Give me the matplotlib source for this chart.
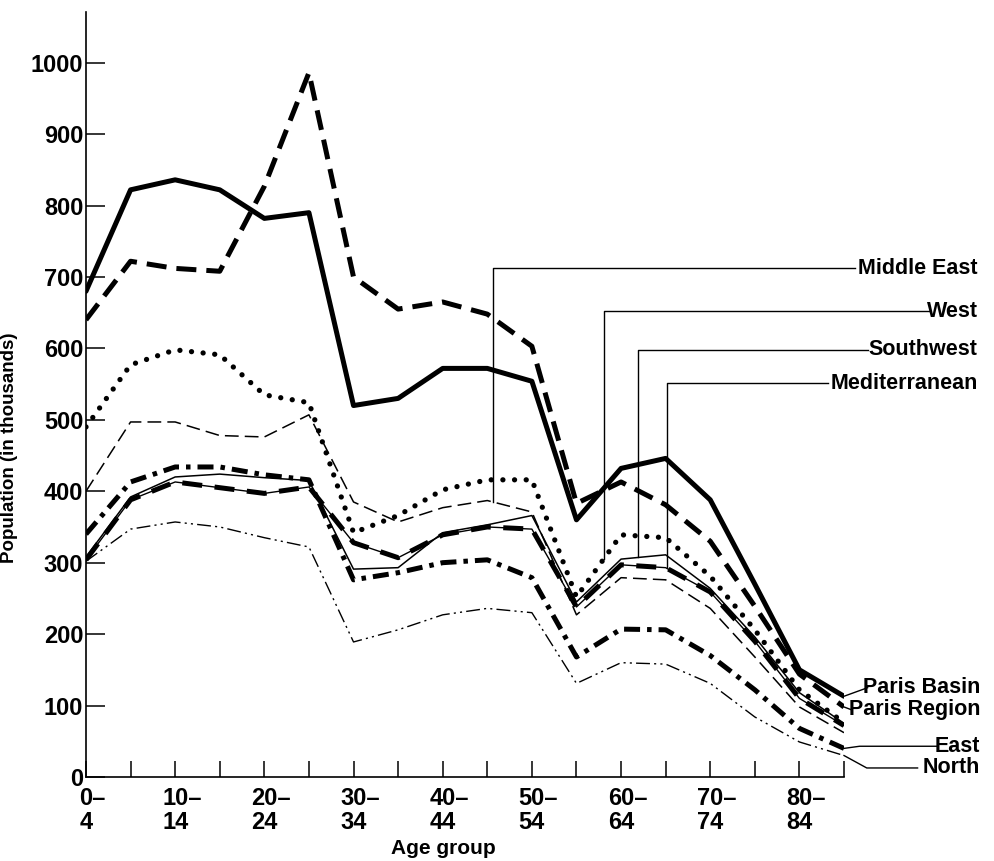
import numpy as np
import matplotlib
matplotlib.use('Agg')
import matplotlib.pyplot as plt

plt.rcParams['font.family'] = ['Liberation Sans', 'DejaVu Sans']
plt.rcParams['font.weight'] = 'bold'
plt.rcParams['axes.labelweight'] = 'bold'

# age groups 0-4 ... 85+ (one point per 5-year group)
age_groups = ['0-4', '5-9', '10-14', '15-19', '20-24', '25-29', '30-34', '35-39', '40-44',
              '45-49', '50-54', '55-59', '60-64', '65-69', '70-74', '75-79', '80-84', '85+']
tick_labels = ['0–\n4', '', '10–\n14', '', '20–\n24', '', '30–\n34', '', '40–\n44', '',
               '50–\n54', '', '60–\n64', '', '70–\n74', '', '80–\n84', '']
y_ticks = [0, 100, 200, 300, 400, 500, 600, 700, 800, 900, 1000]

# population in thousands
paris_basin = [680, 822, 836, 822, 782, 790, 520, 530, 572, 572, 554, 360, 432, 446, 388, 270, 150, 113]
paris_region = [640, 722, 712, 708, 827, 986, 700, 655, 665, 648, 603, 383, 413, 381, 330, 239, 144, 98]
west = [490, 577, 598, 591, 535, 524, 342, 366, 402, 416, 416, 252, 339, 335, 281, 206, 122, 76]
middle_east = [400, 497, 497, 478, 476, 507, 385, 357, 377, 387, 371, 227, 279, 276, 236, 168, 98, 62]
southwest = [308, 392, 420, 424, 419, 415, 291, 293, 342, 353, 366, 245, 305, 311, 264, 196, 118, 75]
mediterranean = [304, 388, 413, 405, 397, 406, 328, 307, 339, 350, 347, 238, 297, 293, 259, 190, 110, 72]
east = [340, 413, 434, 434, 423, 416, 276, 286, 300, 304, 279, 168, 207, 206, 170, 122, 68, 40]
north = [302, 347, 357, 350, 335, 322, 189, 206, 227, 236, 230, 131, 160, 158, 131, 84, 49, 30]

x = np.arange(len(age_groups))

fig = plt.figure(figsize=(9.94, 8.61), dpi=100)
ax = fig.add_axes([0.0865, 0.0976, 0.7626, 0.8885])

ax.plot(x, paris_basin, color='black', lw=3.6, solid_capstyle='round', solid_joinstyle='round')
ax.plot(x, paris_region, color='black', lw=3.6, dashes=(4, 2))
ax.plot(x, west, color='black', lw=3.8, dashes=(0.01, 2.2), dash_capstyle='round')
ax.plot(x, middle_east, color='black', lw=1.1, dashes=(9, 4))
ax.plot(x, southwest, color='black', lw=1.1)
ax.plot(x, mediterranean, color='black', lw=1.0)
ax.plot(x, mediterranean, color='black', lw=3.6, dashes=(4, 2.5))
ax.plot(x, east, color='black', lw=3.6, dashes=(3.2, 1.4, 0.9, 1.4))
ax.plot(x, north, color='black', lw=1.0, dashes=(10, 3, 1.5, 3, 1.5, 3))

ax.set_xlim(0, 17)
ax.set_ylim(0, 1071)
for s in ['top', 'right']:
    ax.spines[s].set_visible(False)
for s in ['left', 'bottom']:
    ax.spines[s].set_linewidth(1.2)

ax.set_yticks(y_ticks)
ax.set_yticklabels([str(v) for v in y_ticks], fontsize=17)
ax.tick_params(axis='y', direction='in', length=13.5, width=1.1, pad=2)
ax.set_xticks(x)
ax.set_xticklabels([''] * len(x))
ax.tick_params(axis='x', direction='in', length=11.5, width=1.1)

# x tick labels: number centred on the tick, dash trailing to the right
for i, lab in enumerate(tick_labels):
    if not lab:
        continue
    ndig = len(lab.split('\n')[0].rstrip('–'))
    ax.annotate(lab, xy=(i, 0), xycoords=('data', 'axes fraction'),
                xytext=(-ndig * 0.556 * 17 / 2, -7), textcoords='offset points',
                ha='left', va='top', fontsize=17, linespacing=1.1, annotation_clip=False)

ax.set_ylabel('Population (in thousands)', fontsize=13.5)
ax.yaxis.set_label_coords(-0.09, 0.431)
ax.set_xlabel('Age group', fontsize=15)
ax.xaxis.set_label_coords(0.472, -0.093)
ax.xaxis.label.set_va('center')

# leader labels on the upper right
text_x = 20.0
top_labels = [('Middle East', middle_east, 9.13, 712, 17.24),
              ('West', west, 11.61, 652, 18.92),
              ('Southwest', southwest, 12.38, 598, 17.53),
              ('Mediterranean', mediterranean, 13.03, 551, 16.64)]
for name, series, xv, yl, xe in top_labels:
    yv = np.interp(xv, x, series)
    ax.plot([xv, xv, xe], [yv, yl, yl], color='black', lw=1.0, clip_on=False)
    ax.text(text_x, yl, name, ha='right', va='center', fontsize=15.5, clip_on=False)

# leader labels at the right end
end_labels = [('Paris Basin', paris_basin, [17.53], 125),
              ('Paris Region', paris_region, [17.17], 94),
              ('East', east, [17.35, 19.08], 43),
              ('North', north, [17.51, 18.65], 12.6)]
for name, series, xs, yl in end_labels:
    ax.plot([17] + xs, [series[-1]] + [yl] * len(xs), color='black', lw=1.0, clip_on=False)
    ax.text(20.05, yl, name, ha='right', va='center', fontsize=15.5, clip_on=False)

fig.savefig('out.png', dpi=100)
